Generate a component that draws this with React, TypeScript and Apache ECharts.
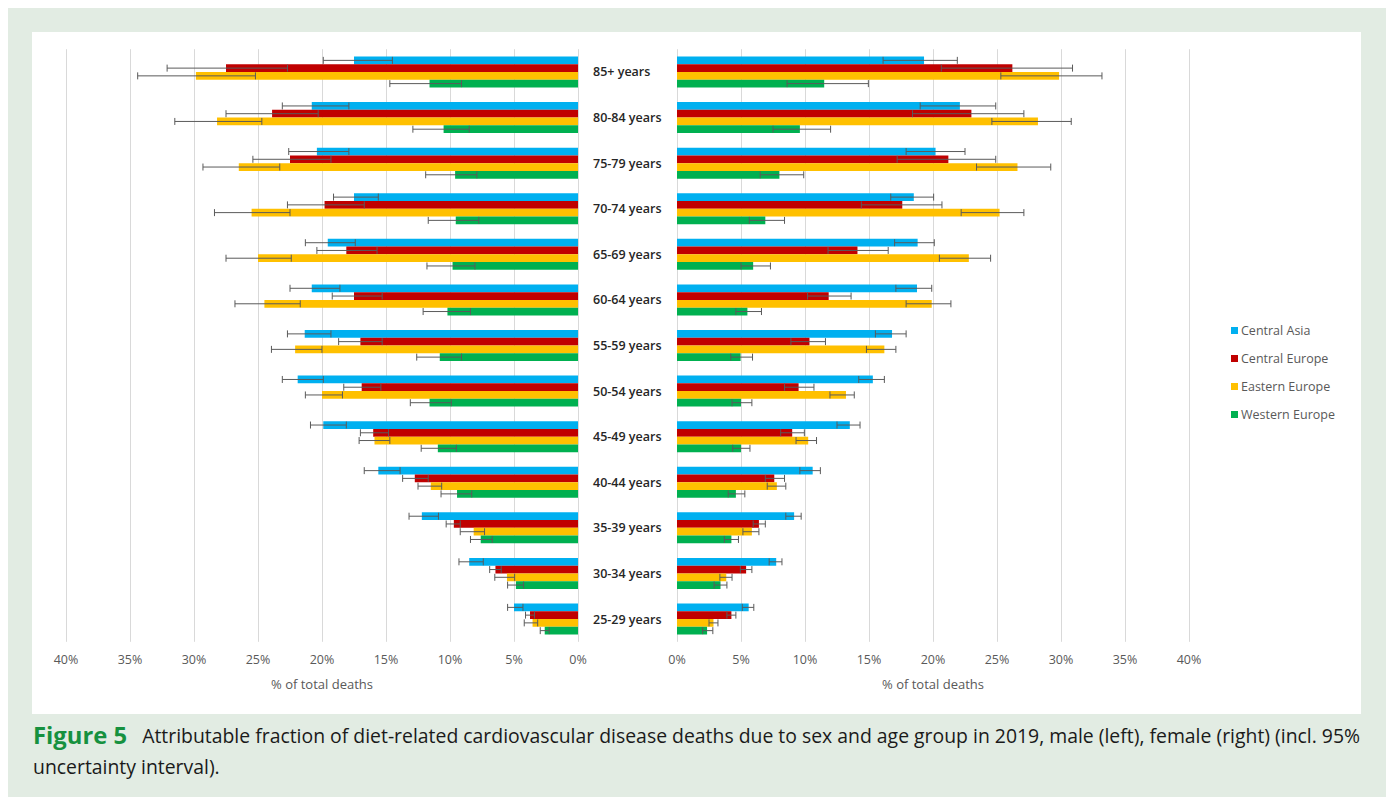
import React, { useEffect, useRef } from "react";
import * as echarts from "echarts";

const ageGroups = [
  "85+ years", "80-84 years", "75-79 years", "70-74 years", "65-69 years", "60-64 years",
  "55-59 years", "50-54 years", "45-49 years", "40-44 years", "35-39 years", "30-34 years", "25-29 years",
];
const regions = ["Central Asia", "Central Europe", "Eastern Europe", "Western Europe"];
const regionColors = ["#00b0f0", "#c00000", "#ffc000", "#00b050"];

// Male (left)
const maleCentralAsia = [17.5, 20.8, 20.4, 17.5, 19.55, 20.8, 21.35, 21.9, 19.9, 15.6, 12.2, 8.5, 5.0];
const maleCentralAsiaLow = [14.5, 17.9, 17.9, 15.6, 17.4, 18.6, 19.3, 19.9, 18.1, 13.9, 10.9, 7.4, 4.3];
const maleCentralAsiaHigh = [19.9, 23.1, 22.6, 19.1, 21.3, 22.5, 22.7, 23.1, 20.9, 16.7, 13.2, 9.3, 5.5];
const maleCentralEurope = [27.5, 23.9, 22.5, 19.8, 18.1, 17.5, 17.0, 16.9, 16.0, 12.75, 9.7, 6.45, 3.75];
const maleCentralEuropeLow = [22.7, 20.3, 19.3, 16.7, 15.7, 15.3, 15.3, 15.4, 14.8, 11.7, 9.2, 6.0, 3.4];
const maleCentralEuropeHigh = [32.1, 27.5, 25.4, 22.7, 20.4, 19.2, 18.7, 18.3, 17.0, 13.7, 10.3, 6.9, 4.1];
const maleEasternEurope = [29.85, 28.2, 26.5, 25.5, 25.0, 24.5, 22.1, 20.0, 15.9, 11.5, 8.15, 5.55, 3.55];
const maleEasternEuropeLow = [25.2, 24.7, 23.3, 22.5, 22.4, 21.7, 20.0, 18.4, 14.7, 10.65, 7.3, 4.95, 3.15];
const maleEasternEuropeHigh = [34.4, 31.5, 29.3, 28.4, 27.5, 26.8, 23.95, 21.3, 17.1, 12.5, 9.2, 6.5, 4.2];
const maleWesternEurope = [11.6, 10.5, 9.6, 9.55, 9.8, 10.2, 10.8, 11.6, 10.95, 9.45, 7.6, 4.85, 2.6];
const maleWesternEuropeLow = [9.1, 8.5, 7.9, 7.75, 8.05, 8.4, 9.1, 9.9, 9.5, 8.3, 6.7, 4.25, 2.25];
const maleWesternEuropeHigh = [14.7, 12.9, 11.9, 11.7, 11.8, 12.1, 12.6, 13.1, 12.25, 10.7, 8.4, 5.5, 2.95];

// Female (right)
const femaleCentralAsia = [19.3, 22.1, 20.2, 18.5, 18.8, 18.75, 16.8, 15.3, 13.5, 10.6, 9.15, 7.75, 5.6];
const femaleCentralAsiaLow = [16.1, 19.0, 17.9, 16.7, 17.0, 17.1, 15.5, 14.2, 12.5, 9.6, 8.5, 7.2, 5.1];
const femaleCentralAsiaHigh = [21.9, 24.9, 22.5, 20.05, 20.1, 19.9, 17.9, 16.2, 14.3, 11.2, 9.7, 8.2, 6.0];
const femaleCentralEurope = [26.2, 23.0, 21.2, 17.6, 14.1, 11.85, 10.35, 9.5, 9.0, 7.6, 6.4, 5.4, 4.25];
const femaleCentralEuropeLow = [20.65, 18.4, 17.2, 14.4, 11.8, 10.2, 8.9, 8.4, 8.1, 6.9, 5.95, 4.95, 3.9];
const femaleCentralEuropeHigh = [30.9, 27.1, 24.9, 20.7, 16.5, 13.6, 11.6, 10.7, 9.95, 8.4, 6.9, 5.85, 4.6];
const femaleEasternEurope = [29.85, 28.2, 26.6, 25.2, 22.8, 19.9, 16.2, 13.2, 10.25, 7.8, 5.85, 3.85, 2.85];
const femaleEasternEuropeLow = [25.3, 24.6, 23.4, 22.2, 20.5, 17.9, 14.8, 11.95, 9.3, 7.05, 5.15, 3.35, 2.5];
const femaleEasternEuropeHigh = [33.2, 30.8, 29.2, 27.1, 24.5, 21.4, 17.1, 13.85, 10.9, 8.5, 6.4, 4.3, 3.2];
const femaleWesternEurope = [11.5, 9.6, 8.0, 6.9, 5.95, 5.5, 4.97, 5.0, 5.0, 4.6, 4.25, 3.4, 2.35];
const femaleWesternEuropeLow = [8.6, 7.5, 6.5, 5.65, 5.0, 4.6, 4.2, 4.3, 4.35, 4.0, 3.7, 2.9, 2.0];
const femaleWesternEuropeHigh = [14.95, 12.0, 9.9, 8.4, 7.3, 6.6, 5.9, 5.85, 5.7, 5.3, 4.8, 3.9, 2.8];

const axisTitle = "% of total deaths";
const captionLabel = "Figure 5";
const captionLine1 =
  "Attributable fraction of diet-related cardiovascular disease deaths due to sex and age group in 2019, male (left), female (right) (incl. 95%";
const captionLine2 = "uncertainty interval).";

const maleValues = [maleCentralAsia, maleCentralEurope, maleEasternEurope, maleWesternEurope];
const maleLows = [maleCentralAsiaLow, maleCentralEuropeLow, maleEasternEuropeLow, maleWesternEuropeLow];
const maleHighs = [maleCentralAsiaHigh, maleCentralEuropeHigh, maleEasternEuropeHigh, maleWesternEuropeHigh];
const femaleValues = [femaleCentralAsia, femaleCentralEurope, femaleEasternEurope, femaleWesternEurope];
const femaleLows = [femaleCentralAsiaLow, femaleCentralEuropeLow, femaleEasternEuropeLow, femaleWesternEuropeLow];
const femaleHighs = [femaleCentralAsiaHigh, femaleCentralEuropeHigh, femaleEasternEuropeHigh, femaleWesternEuropeHigh];

const FONT = "'Open Sans', 'Noto Sans', sans-serif";
const CAP_FONT = "'Open Sans', sans-serif";
const CAT_GAP = 0.32;

export default function App() {
  const ref = useRef<HTMLDivElement>(null);

  useEffect(() => {
    document.body.style.margin = "0";
    const chart = echarts.init(ref.current!, null, { renderer: "svg" });

    const makeErrorSeries = (gi: number, s: number, lows: number[], highs: number[]) => ({
      type: "custom",
      name: `err-${gi}-${s}`,
      xAxisIndex: gi,
      yAxisIndex: gi,
      z: 5,
      silent: true,
      encode: { y: 0, x: [1, 2] },
      data: lows.map((lo, i) => [i, lo, highs[i]]),
      renderItem: (params: any, api: any) => {
        const idx = api.value(0);
        const p1 = api.coord([api.value(1), idx]);
        const p2 = api.coord([api.value(2), idx]);
        const band = api.size([0, 1])[1];
        const bw = (band * (1 - CAT_GAP)) / 4;
        const y = p1[1] + (s - 1.5) * bw;
        const cap = 3.5;
        const st = { stroke: "#5a5a5a", lineWidth: 1 };
        return {
          type: "group",
          children: [
            { type: "line", shape: { x1: p1[0], y1: y, x2: p2[0], y2: y }, style: st },
            { type: "line", shape: { x1: p1[0], y1: y - cap, x2: p1[0], y2: y + cap }, style: st },
            { type: "line", shape: { x1: p2[0], y1: y - cap, x2: p2[0], y2: y + cap }, style: st },
          ],
        };
      },
    });

    const barSeries: any[] = [];
    const errSeries: any[] = [];
    [0, 1].forEach((gi) => {
      const vals = gi === 0 ? maleValues : femaleValues;
      const lows = gi === 0 ? maleLows : femaleLows;
      const highs = gi === 0 ? maleHighs : femaleHighs;
      regions.forEach((r, s) => {
        barSeries.push({
          type: "bar",
          name: r,
          xAxisIndex: gi,
          yAxisIndex: gi,
          data: vals[s],
          barGap: "0%",
          barCategoryGap: `${CAT_GAP * 100}%`,
          itemStyle: { color: regionColors[s] },
          silent: true,
        });
        errSeries.push(makeErrorSeries(gi, s, lows[s], highs[s]));
      });
    });

    const gridTop = 49.2;
    const gridHeight = 592.6;

    const xAxisBase = (gi: number) => ({
      type: "value",
      gridIndex: gi,
      min: 0,
      max: 40,
      interval: 5,
      inverse: gi === 0,
      axisLine: { show: false },
      axisTick: { show: false },
      splitLine: { show: true, lineStyle: { color: "#d9d9d9", width: 1 } },
      axisLabel: { formatter: "{value}%", color: "#595959", fontSize: 12.5, fontFamily: FONT, margin: 11 },
      name: axisTitle,
      nameLocation: "middle",
      nameGap: 36,
      nameTextStyle: { color: "#595959", fontSize: 13, fontFamily: FONT },
    });

    const option: any = {
      animation: false,
      backgroundColor: "#ffffff",
      textStyle: { fontFamily: FONT },
      graphic: [
        { type: "rect", z: -200, shape: { x: 8, y: 8, width: 1378, height: 789 }, style: { fill: "#e2ece3" } },
        { type: "rect", z: -100, shape: { x: 32, y: 32, width: 1329, height: 682 }, style: { fill: "#ffffff" } },
        {
          type: "text",
          x: 33,
          y: 735,
          style: {
            text: `{g|${captionLabel}}{t|   ${captionLine1}}`,
            verticalAlign: "middle",
            rich: {
              g: { fontFamily: CAP_FONT, fontWeight: "bold", fontSize: 23.8, fill: "#16913f" },
              t: { fontFamily: CAP_FONT, fontSize: 19.4, fill: "#1a1a1a" },
            },
          },
        },
        {
          type: "text",
          x: 33,
          y: 766,
          style: {
            text: captionLine2,
            verticalAlign: "middle",
            fontFamily: CAP_FONT,
            fontSize: 19.4,
            fill: "#1a1a1a",
          },
        },
      ],
      legend: {
        data: regions,
        orient: "vertical",
        left: 1226,
        top: 319,
        icon: "rect",
        itemWidth: 7,
        itemHeight: 7,
        itemGap: 15,
        selectedMode: false,
        textStyle: { color: "#595959", fontSize: 12.5, fontFamily: FONT, padding: [0, 0, 0, -2] },
      },
      grid: [
        { left: 66, top: gridTop, width: 512, height: gridHeight },
        { left: 677, top: gridTop, width: 512, height: gridHeight },
      ],
      xAxis: [xAxisBase(0), xAxisBase(1)],
      yAxis: [
        {
          type: "category",
          gridIndex: 0,
          inverse: true,
          data: ageGroups,
          axisLine: { show: false },
          axisTick: { show: false },
          axisLabel: { show: false },
        },
        {
          type: "category",
          gridIndex: 1,
          inverse: true,
          data: ageGroups,
          axisLine: { show: false },
          axisTick: { show: false },
          axisLabel: {
            show: true,
            align: "left",
            margin: 84,
            color: "#262626",
            fontSize: 12.5,
            fontWeight: 600,
            fontFamily: FONT,
          },
        },
      ],
      series: [...barSeries, ...errSeries],
    };

    chart.setOption(option);
    return () => chart.dispose();
  }, []);

  return <div ref={ref} style={{ width: 1386, height: 797 }} />;
}
